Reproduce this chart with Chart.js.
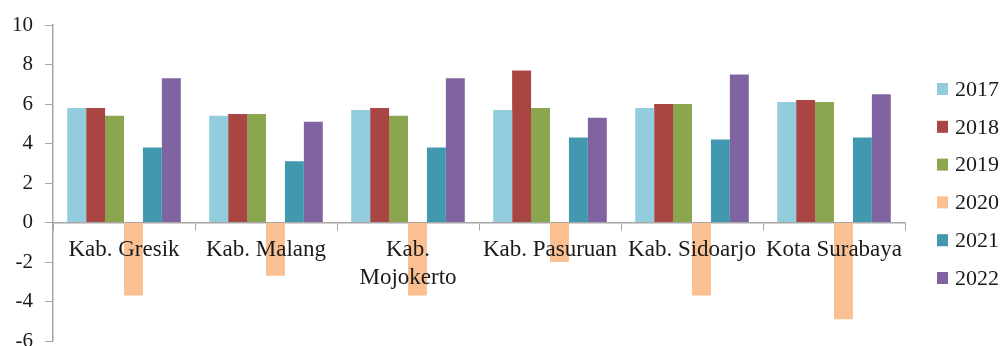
<!DOCTYPE html>
<html>
<head>
<meta charset="utf-8">
<script src="https://cdn.jsdelivr.net/npm/chart.js@4/dist/chart.umd.min.js"></script>
<style>
    html, body { margin: 0; padding: 0; background: #fff; }
    #wrap { width: 1001px; height: 346px; }
</style>
</head>
<body>
<div id="wrap"><canvas id="chart" width="1001" height="346"></canvas></div>
<script>
// data
const categories = ['Kab. Gresik', 'Kab. Malang', ['Kab.', 'Mojokerto'], 'Kab. Pasuruan', 'Kab. Sidoarjo', 'Kota Surabaya'];
const years = ['2017', '2018', '2019', '2020', '2021', '2022'];
const v2017 = [5.8, 5.4, 5.7, 5.7, 5.8, 6.1];
const v2018 = [5.8, 5.5, 5.8, 7.7, 6.0, 6.2];
const v2019 = [5.4, 5.5, 5.4, 5.8, 6.0, 6.1];
const v2020 = [-3.7, -2.7, -3.7, -2.0, -3.7, -4.9];
const v2021 = [3.8, 3.1, 3.8, 4.3, 4.2, 4.3];
const v2022 = [7.3, 5.1, 7.3, 5.3, 7.5, 6.5];
const yTicks = [-6, -4, -2, 0, 2, 4, 6, 8, 10];

const colors = ['#93CDDD', '#A94643', '#8AA64E', '#FAC091', '#4298AF', '#8064A2'];
const seriesValues = [v2017, v2018, v2019, v2020, v2021, v2022];

const FONT = "'Liberation Serif', 'Times New Roman', serif";
const AXIS = '#a6a6a6';

// legend drawn by hand, to the right of the plot
const sideLegend = {
    id: 'sideLegend',
    afterDraw(chart) {
        const ctx = chart.ctx;
        ctx.save();
        ctx.font = '22px ' + FONT;
        ctx.textBaseline = 'middle';
        chart.data.datasets.forEach((ds, i) => {
            const y = 89 + i * 37.8;
            ctx.fillStyle = ds.backgroundColor;
            ctx.fillRect(937, y - 6, 11, 12);
            ctx.fillStyle = '#1a1a1a';
            ctx.fillText(ds.label, 955, y + 1);
        });
        ctx.restore();
    }
};

new Chart(document.getElementById('chart'), {
    type: 'bar',
    data: {
        labels: categories,
        datasets: years.map((y, i) => ({
            label: y,
            data: seriesValues[i],
            backgroundColor: colors[i],
            borderWidth: 0,
            categoryPercentage: 0.8,
            barPercentage: 1.0
        }))
    },
    options: {
        responsive: false,
        animation: false,
        layout: { padding: { top: 25, right: 96, bottom: 5, left: 0 } },
        plugins: {
            legend: { display: false },
            tooltip: { enabled: false }
        },
        scales: {
            x: {
                position: { y: 0 },
                grid: {
                    offset: true,
                    drawOnChartArea: false,
                    color: AXIS,
                    tickLength: 7
                },
                border: { color: AXIS, width: 1.5 },
                ticks: {
                    z: 1,
                    color: '#1a1a1a',
                    font: { family: FONT, size: 23, lineHeight: 1.2 },
                    padding: 7,
                    maxRotation: 0,
                    autoSkip: false
                }
            },
            y: {
                min: -6,
                max: 10,
                afterBuildTicks: (scale) => {
                    scale.ticks = yTicks.map(v => ({ value: v }));
                },
                afterFit: (scale) => {
                    scale.width = 53;
                    scale.paddingTop = 0;
                    scale.paddingBottom = 0;
                },
                grid: {
                    drawOnChartArea: false,
                    color: AXIS,
                    tickLength: 8
                },
                border: { color: AXIS, width: 1.5 },
                ticks: {
                    color: '#1a1a1a',
                    font: { family: FONT, size: 21 },
                    padding: 12
                }
            }
        }
    },
    plugins: [sideLegend]
});
</script>
</body>
</html>
